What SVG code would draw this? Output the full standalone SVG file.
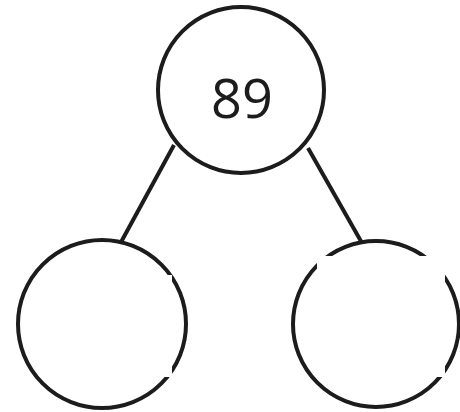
<svg xmlns="http://www.w3.org/2000/svg" width="460" height="412" viewBox="0 0 460 412">
<style>
.node{fill:#fff;stroke:#1c1c1c;stroke-width:4}
.edge{stroke:#1c1c1c;stroke-width:4;fill:none}
.mask{fill:#fff;stroke:none}
.lbl{font-family:"Open Sans","Liberation Sans",sans-serif;font-size:54px;fill:#1c1c1c;text-anchor:middle}
</style>
<rect width="460" height="412" fill="#fff"/>
<g id="connectors">
<line class="edge" x1="174" y1="145" x2="120" y2="244"/>
<line class="edge" x1="308" y1="148" x2="362" y2="243"/>
</g>
<g id="node-root">
<circle class="node" cx="241" cy="90" r="83"/>
<text class="lbl" x="242" y="118">89</text>
</g>
<g id="node-left">
<circle class="node" cx="102" cy="324" r="84"/>
<rect class="mask" x="43" y="275" width="129" height="102"/>
</g>
<g id="node-right">
<circle class="node" cx="376" cy="324" r="83"/>
<rect class="mask" x="317" y="256" width="128" height="121"/>
</g>
</svg>
